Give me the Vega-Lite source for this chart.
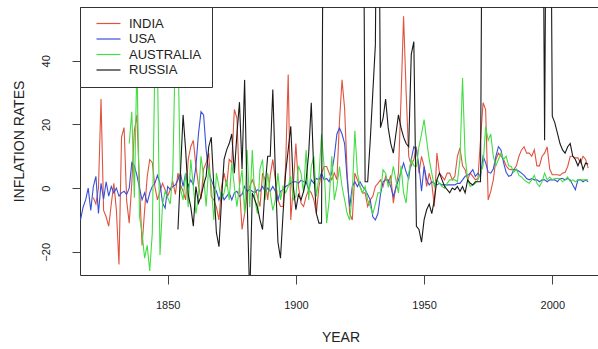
{"$schema":"https://vega.github.io/schema/vega-lite/v6.json","width":521,"height":268,"autosize":{"type":"none"},"padding":{"left":80,"top":7,"right":0,"bottom":74},"background":"white","config":{"font":"Liberation Sans","view":{"stroke":"#333","strokeWidth":1}},
"data":{"values":[
{"country":"INDIA","year":1821,"rate":-3},{"country":"INDIA","year":1822,"rate":-5},{"country":"INDIA","year":1823,"rate":0},{"country":"INDIA","year":1824,"rate":28},{"country":"INDIA","year":1825,"rate":-7},{"country":"INDIA","year":1826,"rate":-9},{"country":"INDIA","year":1827,"rate":-12},{"country":"INDIA","year":1828,"rate":-5},{"country":"INDIA","year":1829,"rate":1.5},{"country":"INDIA","year":1830,"rate":-7},{"country":"INDIA","year":1831,"rate":-24},{"country":"INDIA","year":1832,"rate":16},{"country":"INDIA","year":1833,"rate":19},{"country":"INDIA","year":1834,"rate":-4},{"country":"INDIA","year":1835,"rate":-11},{"country":"INDIA","year":1836,"rate":1.5},{"country":"INDIA","year":1837,"rate":18},{"country":"INDIA","year":1838,"rate":23},{"country":"INDIA","year":1839,"rate":1.5},{"country":"INDIA","year":1840,"rate":-18},{"country":"INDIA","year":1841,"rate":-7},{"country":"INDIA","year":1842,"rate":3.5},{"country":"INDIA","year":1843,"rate":9},{"country":"INDIA","year":1844,"rate":8},{"country":"INDIA","year":1845,"rate":0.5},{"country":"INDIA","year":1846,"rate":-3.7},{"country":"INDIA","year":1847,"rate":-1},{"country":"INDIA","year":1848,"rate":1.5},{"country":"INDIA","year":1849,"rate":-0.5},{"country":"INDIA","year":1850,"rate":-2.5},{"country":"INDIA","year":1851,"rate":-0.5},{"country":"INDIA","year":1852,"rate":2},{"country":"INDIA","year":1853,"rate":-2},{"country":"INDIA","year":1854,"rate":4.7},{"country":"INDIA","year":1855,"rate":1},{"country":"INDIA","year":1856,"rate":-1},{"country":"INDIA","year":1857,"rate":-3.7},{"country":"INDIA","year":1858,"rate":9},{"country":"INDIA","year":1859,"rate":13},{"country":"INDIA","year":1860,"rate":15},{"country":"INDIA","year":1861,"rate":7},{"country":"INDIA","year":1862,"rate":1},{"country":"INDIA","year":1863,"rate":-3.5},{"country":"INDIA","year":1864,"rate":6},{"country":"INDIA","year":1865,"rate":8},{"country":"INDIA","year":1866,"rate":11},{"country":"INDIA","year":1867,"rate":-2.6},{"country":"INDIA","year":1868,"rate":-3.7},{"country":"INDIA","year":1869,"rate":-6},{"country":"INDIA","year":1870,"rate":-10},{"country":"INDIA","year":1871,"rate":0.5},{"country":"INDIA","year":1872,"rate":4.7},{"country":"INDIA","year":1873,"rate":0.5},{"country":"INDIA","year":1874,"rate":9},{"country":"INDIA","year":1875,"rate":8},{"country":"INDIA","year":1876,"rate":24.7},{"country":"INDIA","year":1877,"rate":22},{"country":"INDIA","year":1878,"rate":0.5},{"country":"INDIA","year":1879,"rate":-13},{"country":"INDIA","year":1880,"rate":-8},{"country":"INDIA","year":1881,"rate":-1.5},{"country":"INDIA","year":1882,"rate":0.5},{"country":"INDIA","year":1883,"rate":2.6},{"country":"INDIA","year":1884,"rate":0.5},{"country":"INDIA","year":1885,"rate":-2.6},{"country":"INDIA","year":1886,"rate":-5.8},{"country":"INDIA","year":1887,"rate":4.7},{"country":"INDIA","year":1888,"rate":2.6},{"country":"INDIA","year":1889,"rate":-3.7},{"country":"INDIA","year":1890,"rate":4},{"country":"INDIA","year":1891,"rate":9},{"country":"INDIA","year":1892,"rate":2.6},{"country":"INDIA","year":1893,"rate":-3.7},{"country":"INDIA","year":1894,"rate":-5.8},{"country":"INDIA","year":1895,"rate":-5.8},{"country":"INDIA","year":1896,"rate":7},{"country":"INDIA","year":1897,"rate":35.7},{"country":"INDIA","year":1898,"rate":-10},{"country":"INDIA","year":1899,"rate":0.5},{"country":"INDIA","year":1900,"rate":14},{"country":"INDIA","year":1901,"rate":0.5},{"country":"INDIA","year":1902,"rate":-4.7},{"country":"INDIA","year":1903,"rate":-5.8},{"country":"INDIA","year":1904,"rate":-2.6},{"country":"INDIA","year":1905,"rate":-0.5},{"country":"INDIA","year":1906,"rate":-1.5},{"country":"INDIA","year":1907,"rate":-3.7},{"country":"INDIA","year":1908,"rate":-8},{"country":"INDIA","year":1909,"rate":0.5},{"country":"INDIA","year":1910,"rate":4.7},{"country":"INDIA","year":1911,"rate":6.8},{"country":"INDIA","year":1912,"rate":6.8},{"country":"INDIA","year":1913,"rate":4.7},{"country":"INDIA","year":1914,"rate":2.6},{"country":"INDIA","year":1915,"rate":4.7},{"country":"INDIA","year":1916,"rate":2.6},{"country":"INDIA","year":1917,"rate":21},{"country":"INDIA","year":1918,"rate":34},{"country":"INDIA","year":1919,"rate":25},{"country":"INDIA","year":1920,"rate":4.7},{"country":"INDIA","year":1921,"rate":-8},{"country":"INDIA","year":1922,"rate":-10},{"country":"INDIA","year":1923,"rate":4.7},{"country":"INDIA","year":1924,"rate":2.6},{"country":"INDIA","year":1925,"rate":0.5},{"country":"INDIA","year":1926,"rate":-1.5},{"country":"INDIA","year":1927,"rate":-1.5},{"country":"INDIA","year":1928,"rate":-5.8},{"country":"INDIA","year":1929,"rate":-3.7},{"country":"INDIA","year":1930,"rate":-2.6},{"country":"INDIA","year":1931,"rate":0.5},{"country":"INDIA","year":1932,"rate":1.5},{"country":"INDIA","year":1933,"rate":2.6},{"country":"INDIA","year":1934,"rate":0.5},{"country":"INDIA","year":1935,"rate":3.7},{"country":"INDIA","year":1936,"rate":1.5},{"country":"INDIA","year":1937,"rate":4},{"country":"INDIA","year":1938,"rate":-4.7},{"country":"INDIA","year":1939,"rate":0.5},{"country":"INDIA","year":1940,"rate":4.7},{"country":"INDIA","year":1941,"rate":28},{"country":"INDIA","year":1942,"rate":54},{"country":"INDIA","year":1943,"rate":30},{"country":"INDIA","year":1944,"rate":10},{"country":"INDIA","year":1945,"rate":7},{"country":"INDIA","year":1946,"rate":9},{"country":"INDIA","year":1947,"rate":13},{"country":"INDIA","year":1948,"rate":4.7},{"country":"INDIA","year":1949,"rate":10},{"country":"INDIA","year":1950,"rate":6.8},{"country":"INDIA","year":1951,"rate":0.5},{"country":"INDIA","year":1952,"rate":4.7},{"country":"INDIA","year":1953,"rate":1.5},{"country":"INDIA","year":1954,"rate":-5.8},{"country":"INDIA","year":1955,"rate":11},{"country":"INDIA","year":1956,"rate":4.7},{"country":"INDIA","year":1957,"rate":3.7},{"country":"INDIA","year":1958,"rate":2.6},{"country":"INDIA","year":1959,"rate":4.7},{"country":"INDIA","year":1960,"rate":4.7},{"country":"INDIA","year":1961,"rate":2.6},{"country":"INDIA","year":1962,"rate":3.7},{"country":"INDIA","year":1963,"rate":10},{"country":"INDIA","year":1964,"rate":12.6},{"country":"INDIA","year":1965,"rate":7},{"country":"INDIA","year":1966,"rate":5.8},{"country":"INDIA","year":1967,"rate":2.6},{"country":"INDIA","year":1968,"rate":4.7},{"country":"INDIA","year":1969,"rate":3.7},{"country":"INDIA","year":1970,"rate":2.6},{"country":"INDIA","year":1971,"rate":3},{"country":"INDIA","year":1972,"rate":15},{"country":"INDIA","year":1973,"rate":26.8},{"country":"INDIA","year":1974,"rate":24.7},{"country":"INDIA","year":1975,"rate":-3.7},{"country":"INDIA","year":1976,"rate":-1},{"country":"INDIA","year":1977,"rate":2.6},{"country":"INDIA","year":1978,"rate":9},{"country":"INDIA","year":1979,"rate":11},{"country":"INDIA","year":1980,"rate":10},{"country":"INDIA","year":1981,"rate":9},{"country":"INDIA","year":1982,"rate":7},{"country":"INDIA","year":1983,"rate":6},{"country":"INDIA","year":1984,"rate":5.8},{"country":"INDIA","year":1985,"rate":5.8},{"country":"INDIA","year":1986,"rate":7},{"country":"INDIA","year":1987,"rate":10},{"country":"INDIA","year":1988,"rate":12},{"country":"INDIA","year":1989,"rate":13},{"country":"INDIA","year":1990,"rate":11},{"country":"INDIA","year":1991,"rate":11},{"country":"INDIA","year":1992,"rate":10},{"country":"INDIA","year":1993,"rate":12},{"country":"INDIA","year":1994,"rate":7},{"country":"INDIA","year":1995,"rate":7},{"country":"INDIA","year":1996,"rate":10},{"country":"INDIA","year":1997,"rate":11},{"country":"INDIA","year":1998,"rate":13},{"country":"INDIA","year":1999,"rate":6},{"country":"INDIA","year":2000,"rate":4.2},{"country":"INDIA","year":2001,"rate":4.2},{"country":"INDIA","year":2002,"rate":4.2},{"country":"INDIA","year":2003,"rate":4},{"country":"INDIA","year":2004,"rate":4.7},{"country":"INDIA","year":2005,"rate":5},{"country":"INDIA","year":2006,"rate":6.8},{"country":"INDIA","year":2007,"rate":10},{"country":"INDIA","year":2008,"rate":10},{"country":"INDIA","year":2009,"rate":9.5},{"country":"INDIA","year":2010,"rate":9.5},{"country":"INDIA","year":2011,"rate":8},{"country":"INDIA","year":2012,"rate":10},{"country":"INDIA","year":2013,"rate":9},{"country":"INDIA","year":2014,"rate":6.3},
{"country":"USA","year":1816,"rate":-10},{"country":"USA","year":1817,"rate":-6},{"country":"USA","year":1818,"rate":-3.7},{"country":"USA","year":1819,"rate":0},{"country":"USA","year":1820,"rate":-7},{"country":"USA","year":1821,"rate":0.5},{"country":"USA","year":1822,"rate":3.7},{"country":"USA","year":1823,"rate":-8},{"country":"USA","year":1824,"rate":1.5},{"country":"USA","year":1825,"rate":-3.5},{"country":"USA","year":1826,"rate":2},{"country":"USA","year":1827,"rate":-2.5},{"country":"USA","year":1828,"rate":0.5},{"country":"USA","year":1829,"rate":-1.5},{"country":"USA","year":1830,"rate":0},{"country":"USA","year":1831,"rate":-2.5},{"country":"USA","year":1832,"rate":-1.5},{"country":"USA","year":1833,"rate":-1},{"country":"USA","year":1834,"rate":-2},{"country":"USA","year":1835,"rate":0},{"country":"USA","year":1836,"rate":8},{"country":"USA","year":1837,"rate":7},{"country":"USA","year":1838,"rate":4},{"country":"USA","year":1839,"rate":0},{"country":"USA","year":1840,"rate":-3.7},{"country":"USA","year":1841,"rate":-1.5},{"country":"USA","year":1842,"rate":-4.7},{"country":"USA","year":1843,"rate":-1.5},{"country":"USA","year":1844,"rate":0.5},{"country":"USA","year":1845,"rate":1.5},{"country":"USA","year":1846,"rate":4},{"country":"USA","year":1847,"rate":1.5},{"country":"USA","year":1848,"rate":-4.7},{"country":"USA","year":1849,"rate":-6.3},{"country":"USA","year":1850,"rate":0.5},{"country":"USA","year":1851,"rate":-0.5},{"country":"USA","year":1852,"rate":0.5},{"country":"USA","year":1853,"rate":1},{"country":"USA","year":1854,"rate":2.6},{"country":"USA","year":1855,"rate":4.7},{"country":"USA","year":1856,"rate":0.5},{"country":"USA","year":1857,"rate":4.7},{"country":"USA","year":1858,"rate":0.5},{"country":"USA","year":1859,"rate":2.6},{"country":"USA","year":1860,"rate":1},{"country":"USA","year":1861,"rate":6.8},{"country":"USA","year":1862,"rate":17},{"country":"USA","year":1863,"rate":24},{"country":"USA","year":1864,"rate":23},{"country":"USA","year":1865,"rate":12},{"country":"USA","year":1866,"rate":5},{"country":"USA","year":1867,"rate":2.6},{"country":"USA","year":1868,"rate":0.5},{"country":"USA","year":1869,"rate":-1},{"country":"USA","year":1870,"rate":-3.7},{"country":"USA","year":1871,"rate":-1.5},{"country":"USA","year":1872,"rate":-3.7},{"country":"USA","year":1873,"rate":-2.6},{"country":"USA","year":1874,"rate":-1.5},{"country":"USA","year":1875,"rate":-3.7},{"country":"USA","year":1876,"rate":-1.5},{"country":"USA","year":1877,"rate":-1},{"country":"USA","year":1878,"rate":-2.6},{"country":"USA","year":1879,"rate":-2},{"country":"USA","year":1880,"rate":0.5},{"country":"USA","year":1881,"rate":-1},{"country":"USA","year":1882,"rate":-0.5},{"country":"USA","year":1883,"rate":-1},{"country":"USA","year":1884,"rate":-1.5},{"country":"USA","year":1885,"rate":-0.5},{"country":"USA","year":1886,"rate":-1},{"country":"USA","year":1887,"rate":0.5},{"country":"USA","year":1888,"rate":-1},{"country":"USA","year":1889,"rate":0},{"country":"USA","year":1890,"rate":-1},{"country":"USA","year":1891,"rate":0.5},{"country":"USA","year":1892,"rate":-1},{"country":"USA","year":1893,"rate":-3.7},{"country":"USA","year":1894,"rate":-1},{"country":"USA","year":1895,"rate":-0.5},{"country":"USA","year":1896,"rate":0.5},{"country":"USA","year":1897,"rate":1},{"country":"USA","year":1898,"rate":1.5},{"country":"USA","year":1899,"rate":2},{"country":"USA","year":1900,"rate":2},{"country":"USA","year":1901,"rate":1.5},{"country":"USA","year":1902,"rate":2.5},{"country":"USA","year":1903,"rate":2},{"country":"USA","year":1904,"rate":2},{"country":"USA","year":1905,"rate":-0.5},{"country":"USA","year":1906,"rate":2.6},{"country":"USA","year":1907,"rate":1.5},{"country":"USA","year":1908,"rate":3},{"country":"USA","year":1909,"rate":2.6},{"country":"USA","year":1910,"rate":4.7},{"country":"USA","year":1911,"rate":2.6},{"country":"USA","year":1912,"rate":3},{"country":"USA","year":1913,"rate":2},{"country":"USA","year":1914,"rate":5},{"country":"USA","year":1915,"rate":10},{"country":"USA","year":1916,"rate":17},{"country":"USA","year":1917,"rate":18.9},{"country":"USA","year":1918,"rate":17},{"country":"USA","year":1919,"rate":14},{"country":"USA","year":1920,"rate":2.6},{"country":"USA","year":1921,"rate":-5.8},{"country":"USA","year":1922,"rate":0.5},{"country":"USA","year":1923,"rate":2},{"country":"USA","year":1924,"rate":0.5},{"country":"USA","year":1925,"rate":2},{"country":"USA","year":1926,"rate":0.5},{"country":"USA","year":1927,"rate":-0.5},{"country":"USA","year":1928,"rate":-2},{"country":"USA","year":1929,"rate":-3.7},{"country":"USA","year":1930,"rate":-9},{"country":"USA","year":1931,"rate":-10},{"country":"USA","year":1932,"rate":-8},{"country":"USA","year":1933,"rate":-2},{"country":"USA","year":1934,"rate":2},{"country":"USA","year":1935,"rate":2.6},{"country":"USA","year":1936,"rate":2.6},{"country":"USA","year":1937,"rate":0.5},{"country":"USA","year":1938,"rate":-2.6},{"country":"USA","year":1939,"rate":0},{"country":"USA","year":1940,"rate":2.6},{"country":"USA","year":1941,"rate":5},{"country":"USA","year":1942,"rate":7.9},{"country":"USA","year":1943,"rate":5},{"country":"USA","year":1944,"rate":3},{"country":"USA","year":1945,"rate":9},{"country":"USA","year":1946,"rate":13},{"country":"USA","year":1947,"rate":12},{"country":"USA","year":1948,"rate":7},{"country":"USA","year":1949,"rate":-1},{"country":"USA","year":1950,"rate":6.8},{"country":"USA","year":1951,"rate":2.6},{"country":"USA","year":1952,"rate":1},{"country":"USA","year":1953,"rate":2},{"country":"USA","year":1954,"rate":1.5},{"country":"USA","year":1955,"rate":1},{"country":"USA","year":1956,"rate":1.5},{"country":"USA","year":1957,"rate":1},{"country":"USA","year":1958,"rate":1},{"country":"USA","year":1959,"rate":1},{"country":"USA","year":1960,"rate":1},{"country":"USA","year":1961,"rate":1},{"country":"USA","year":1962,"rate":1},{"country":"USA","year":1963,"rate":1.5},{"country":"USA","year":1964,"rate":1.5},{"country":"USA","year":1965,"rate":2.6},{"country":"USA","year":1966,"rate":3.7},{"country":"USA","year":1967,"rate":4},{"country":"USA","year":1968,"rate":4.7},{"country":"USA","year":1969,"rate":5.8},{"country":"USA","year":1970,"rate":3.7},{"country":"USA","year":1971,"rate":4.7},{"country":"USA","year":1972,"rate":3.5},{"country":"USA","year":1973,"rate":10},{"country":"USA","year":1974,"rate":8},{"country":"USA","year":1975,"rate":5},{"country":"USA","year":1976,"rate":4.7},{"country":"USA","year":1977,"rate":6},{"country":"USA","year":1978,"rate":10},{"country":"USA","year":1979,"rate":13},{"country":"USA","year":1980,"rate":12},{"country":"USA","year":1981,"rate":8},{"country":"USA","year":1982,"rate":5},{"country":"USA","year":1983,"rate":3.7},{"country":"USA","year":1984,"rate":4},{"country":"USA","year":1985,"rate":5.8},{"country":"USA","year":1986,"rate":5.8},{"country":"USA","year":1987,"rate":5.3},{"country":"USA","year":1988,"rate":4.7},{"country":"USA","year":1989,"rate":4},{"country":"USA","year":1990,"rate":3},{"country":"USA","year":1991,"rate":2.6},{"country":"USA","year":1992,"rate":3},{"country":"USA","year":1993,"rate":2.6},{"country":"USA","year":1994,"rate":2.6},{"country":"USA","year":1995,"rate":2},{"country":"USA","year":1996,"rate":2.6},{"country":"USA","year":1997,"rate":2.6},{"country":"USA","year":1998,"rate":2},{"country":"USA","year":1999,"rate":2.6},{"country":"USA","year":2000,"rate":2.6},{"country":"USA","year":2001,"rate":2.6},{"country":"USA","year":2002,"rate":2},{"country":"USA","year":2003,"rate":3},{"country":"USA","year":2004,"rate":3},{"country":"USA","year":2005,"rate":2.6},{"country":"USA","year":2006,"rate":3},{"country":"USA","year":2007,"rate":2.6},{"country":"USA","year":2008,"rate":1},{"country":"USA","year":2009,"rate":-0.5},{"country":"USA","year":2010,"rate":2.6},{"country":"USA","year":2011,"rate":2.6},{"country":"USA","year":2012,"rate":2},{"country":"USA","year":2013,"rate":2.6},{"country":"USA","year":2014,"rate":2},
{"country":"AUSTRALIA","year":1835,"rate":14},{"country":"AUSTRALIA","year":1836,"rate":24},{"country":"AUSTRALIA","year":1837,"rate":-3},{"country":"AUSTRALIA","year":1838,"rate":40},{"country":"AUSTRALIA","year":1839,"rate":-9},{"country":"AUSTRALIA","year":1840,"rate":-14},{"country":"AUSTRALIA","year":1841,"rate":-22},{"country":"AUSTRALIA","year":1842,"rate":-18},{"country":"AUSTRALIA","year":1843,"rate":-26},{"country":"AUSTRALIA","year":1844,"rate":-14},{"country":"AUSTRALIA","year":1845,"rate":40},{"country":"AUSTRALIA","year":1846,"rate":40},{"country":"AUSTRALIA","year":1847,"rate":-21},{"country":"AUSTRALIA","year":1848,"rate":-5},{"country":"AUSTRALIA","year":1849,"rate":-1},{"country":"AUSTRALIA","year":1850,"rate":-3},{"country":"AUSTRALIA","year":1851,"rate":-5},{"country":"AUSTRALIA","year":1852,"rate":5},{"country":"AUSTRALIA","year":1853,"rate":45},{"country":"AUSTRALIA","year":1854,"rate":45},{"country":"AUSTRALIA","year":1855,"rate":-0.5},{"country":"AUSTRALIA","year":1856,"rate":-3.7},{"country":"AUSTRALIA","year":1857,"rate":4.7},{"country":"AUSTRALIA","year":1858,"rate":-6},{"country":"AUSTRALIA","year":1859,"rate":9},{"country":"AUSTRALIA","year":1860,"rate":0.5},{"country":"AUSTRALIA","year":1861,"rate":-8},{"country":"AUSTRALIA","year":1862,"rate":-2.6},{"country":"AUSTRALIA","year":1863,"rate":10},{"country":"AUSTRALIA","year":1864,"rate":3.7},{"country":"AUSTRALIA","year":1865,"rate":-5.8},{"country":"AUSTRALIA","year":1866,"rate":6.8},{"country":"AUSTRALIA","year":1867,"rate":0.5},{"country":"AUSTRALIA","year":1868,"rate":-10},{"country":"AUSTRALIA","year":1869,"rate":4.7},{"country":"AUSTRALIA","year":1870,"rate":0.5},{"country":"AUSTRALIA","year":1871,"rate":-3.7},{"country":"AUSTRALIA","year":1872,"rate":-1.5},{"country":"AUSTRALIA","year":1873,"rate":2.6},{"country":"AUSTRALIA","year":1874,"rate":-3.7},{"country":"AUSTRALIA","year":1875,"rate":8},{"country":"AUSTRALIA","year":1876,"rate":0.5},{"country":"AUSTRALIA","year":1877,"rate":-5.8},{"country":"AUSTRALIA","year":1878,"rate":0.5},{"country":"AUSTRALIA","year":1879,"rate":5.8},{"country":"AUSTRALIA","year":1880,"rate":-8},{"country":"AUSTRALIA","year":1881,"rate":12},{"country":"AUSTRALIA","year":1882,"rate":-6},{"country":"AUSTRALIA","year":1883,"rate":12},{"country":"AUSTRALIA","year":1884,"rate":-3.7},{"country":"AUSTRALIA","year":1885,"rate":-8},{"country":"AUSTRALIA","year":1886,"rate":6},{"country":"AUSTRALIA","year":1887,"rate":9},{"country":"AUSTRALIA","year":1888,"rate":-3.7},{"country":"AUSTRALIA","year":1889,"rate":4.7},{"country":"AUSTRALIA","year":1890,"rate":-1.5},{"country":"AUSTRALIA","year":1891,"rate":-7},{"country":"AUSTRALIA","year":1892,"rate":-3.7},{"country":"AUSTRALIA","year":1893,"rate":4.7},{"country":"AUSTRALIA","year":1894,"rate":-3.7},{"country":"AUSTRALIA","year":1895,"rate":0.5},{"country":"AUSTRALIA","year":1896,"rate":-1.5},{"country":"AUSTRALIA","year":1897,"rate":0.5},{"country":"AUSTRALIA","year":1898,"rate":3.7},{"country":"AUSTRALIA","year":1899,"rate":-3.7},{"country":"AUSTRALIA","year":1900,"rate":-2.6},{"country":"AUSTRALIA","year":1901,"rate":7},{"country":"AUSTRALIA","year":1902,"rate":4.7},{"country":"AUSTRALIA","year":1903,"rate":-1.5},{"country":"AUSTRALIA","year":1904,"rate":12},{"country":"AUSTRALIA","year":1905,"rate":-3.7},{"country":"AUSTRALIA","year":1906,"rate":6.8},{"country":"AUSTRALIA","year":1907,"rate":10},{"country":"AUSTRALIA","year":1908,"rate":-2.6},{"country":"AUSTRALIA","year":1909,"rate":3.7},{"country":"AUSTRALIA","year":1910,"rate":17},{"country":"AUSTRALIA","year":1911,"rate":6.8},{"country":"AUSTRALIA","year":1912,"rate":-11},{"country":"AUSTRALIA","year":1913,"rate":-3.7},{"country":"AUSTRALIA","year":1914,"rate":10},{"country":"AUSTRALIA","year":1915,"rate":-3.7},{"country":"AUSTRALIA","year":1916,"rate":0.5},{"country":"AUSTRALIA","year":1917,"rate":6.8},{"country":"AUSTRALIA","year":1918,"rate":0.5},{"country":"AUSTRALIA","year":1919,"rate":-3.7},{"country":"AUSTRALIA","year":1920,"rate":-8},{"country":"AUSTRALIA","year":1921,"rate":-10},{"country":"AUSTRALIA","year":1922,"rate":-1.5},{"country":"AUSTRALIA","year":1923,"rate":18},{"country":"AUSTRALIA","year":1924,"rate":4.7},{"country":"AUSTRALIA","year":1925,"rate":0.5},{"country":"AUSTRALIA","year":1926,"rate":-1.5},{"country":"AUSTRALIA","year":1927,"rate":0.5},{"country":"AUSTRALIA","year":1928,"rate":-3.7},{"country":"AUSTRALIA","year":1929,"rate":-5.8},{"country":"AUSTRALIA","year":1930,"rate":-8},{"country":"AUSTRALIA","year":1931,"rate":-5},{"country":"AUSTRALIA","year":1932,"rate":-1.5},{"country":"AUSTRALIA","year":1933,"rate":-1.5},{"country":"AUSTRALIA","year":1934,"rate":5.8},{"country":"AUSTRALIA","year":1935,"rate":4.7},{"country":"AUSTRALIA","year":1936,"rate":0.5},{"country":"AUSTRALIA","year":1937,"rate":2},{"country":"AUSTRALIA","year":1938,"rate":6.8},{"country":"AUSTRALIA","year":1939,"rate":2.6},{"country":"AUSTRALIA","year":1940,"rate":-1.5},{"country":"AUSTRALIA","year":1941,"rate":7},{"country":"AUSTRALIA","year":1942,"rate":-1.5},{"country":"AUSTRALIA","year":1943,"rate":-4.7},{"country":"AUSTRALIA","year":1944,"rate":4.7},{"country":"AUSTRALIA","year":1945,"rate":9},{"country":"AUSTRALIA","year":1946,"rate":7},{"country":"AUSTRALIA","year":1947,"rate":6.8},{"country":"AUSTRALIA","year":1948,"rate":13},{"country":"AUSTRALIA","year":1949,"rate":17},{"country":"AUSTRALIA","year":1950,"rate":21.5},{"country":"AUSTRALIA","year":1951,"rate":15},{"country":"AUSTRALIA","year":1952,"rate":9},{"country":"AUSTRALIA","year":1953,"rate":4.7},{"country":"AUSTRALIA","year":1954,"rate":0.5},{"country":"AUSTRALIA","year":1955,"rate":2.6},{"country":"AUSTRALIA","year":1956,"rate":1.5},{"country":"AUSTRALIA","year":1957,"rate":0.5},{"country":"AUSTRALIA","year":1958,"rate":0},{"country":"AUSTRALIA","year":1959,"rate":1.5},{"country":"AUSTRALIA","year":1960,"rate":2.6},{"country":"AUSTRALIA","year":1961,"rate":2.6},{"country":"AUSTRALIA","year":1962,"rate":2.6},{"country":"AUSTRALIA","year":1963,"rate":2},{"country":"AUSTRALIA","year":1964,"rate":9},{"country":"AUSTRALIA","year":1965,"rate":34.6},{"country":"AUSTRALIA","year":1966,"rate":10},{"country":"AUSTRALIA","year":1967,"rate":2.6},{"country":"AUSTRALIA","year":1968,"rate":0.5},{"country":"AUSTRALIA","year":1969,"rate":1},{"country":"AUSTRALIA","year":1970,"rate":1.5},{"country":"AUSTRALIA","year":1971,"rate":2.6},{"country":"AUSTRALIA","year":1972,"rate":4.7},{"country":"AUSTRALIA","year":1973,"rate":7},{"country":"AUSTRALIA","year":1974,"rate":19.4},{"country":"AUSTRALIA","year":1975,"rate":15},{"country":"AUSTRALIA","year":1976,"rate":17},{"country":"AUSTRALIA","year":1977,"rate":10},{"country":"AUSTRALIA","year":1978,"rate":7},{"country":"AUSTRALIA","year":1979,"rate":9},{"country":"AUSTRALIA","year":1980,"rate":11},{"country":"AUSTRALIA","year":1981,"rate":9},{"country":"AUSTRALIA","year":1982,"rate":10},{"country":"AUSTRALIA","year":1983,"rate":7},{"country":"AUSTRALIA","year":1984,"rate":6.8},{"country":"AUSTRALIA","year":1985,"rate":5},{"country":"AUSTRALIA","year":1986,"rate":6},{"country":"AUSTRALIA","year":1987,"rate":4},{"country":"AUSTRALIA","year":1988,"rate":3.5},{"country":"AUSTRALIA","year":1989,"rate":2.6},{"country":"AUSTRALIA","year":1990,"rate":2},{"country":"AUSTRALIA","year":1991,"rate":1.5},{"country":"AUSTRALIA","year":1992,"rate":2.6},{"country":"AUSTRALIA","year":1993,"rate":4},{"country":"AUSTRALIA","year":1994,"rate":1.5},{"country":"AUSTRALIA","year":1995,"rate":0.5},{"country":"AUSTRALIA","year":1996,"rate":2},{"country":"AUSTRALIA","year":1997,"rate":4.7},{"country":"AUSTRALIA","year":1998,"rate":2.6},{"country":"AUSTRALIA","year":1999,"rate":3.5},{"country":"AUSTRALIA","year":2000,"rate":2.6},{"country":"AUSTRALIA","year":2001,"rate":3},{"country":"AUSTRALIA","year":2002,"rate":3},{"country":"AUSTRALIA","year":2003,"rate":3},{"country":"AUSTRALIA","year":2004,"rate":2},{"country":"AUSTRALIA","year":2005,"rate":2.6},{"country":"AUSTRALIA","year":2006,"rate":3.5},{"country":"AUSTRALIA","year":2007,"rate":2},{"country":"AUSTRALIA","year":2008,"rate":2.6},{"country":"AUSTRALIA","year":2009,"rate":2},{"country":"AUSTRALIA","year":2010,"rate":2.6},{"country":"AUSTRALIA","year":2011,"rate":2.6},{"country":"AUSTRALIA","year":2012,"rate":2.6},{"country":"AUSTRALIA","year":2013,"rate":2.6},{"country":"AUSTRALIA","year":2014,"rate":2.6},
{"country":"RUSSIA","year":1854,"rate":-13},{"country":"RUSSIA","year":1855,"rate":5},{"country":"RUSSIA","year":1856,"rate":23},{"country":"RUSSIA","year":1857,"rate":12},{"country":"RUSSIA","year":1858,"rate":-2},{"country":"RUSSIA","year":1859,"rate":-5.8},{"country":"RUSSIA","year":1860,"rate":-12},{"country":"RUSSIA","year":1861,"rate":0.5},{"country":"RUSSIA","year":1862,"rate":-4.7},{"country":"RUSSIA","year":1863,"rate":-2.6},{"country":"RUSSIA","year":1864,"rate":1},{"country":"RUSSIA","year":1865,"rate":3.7},{"country":"RUSSIA","year":1866,"rate":13},{"country":"RUSSIA","year":1867,"rate":16},{"country":"RUSSIA","year":1868,"rate":0.5},{"country":"RUSSIA","year":1869,"rate":-14},{"country":"RUSSIA","year":1870,"rate":-18.4},{"country":"RUSSIA","year":1871,"rate":-3.7},{"country":"RUSSIA","year":1872,"rate":9},{"country":"RUSSIA","year":1873,"rate":12},{"country":"RUSSIA","year":1874,"rate":14},{"country":"RUSSIA","year":1875,"rate":17},{"country":"RUSSIA","year":1876,"rate":4.7},{"country":"RUSSIA","year":1877,"rate":17},{"country":"RUSSIA","year":1878,"rate":27},{"country":"RUSSIA","year":1879,"rate":6},{"country":"RUSSIA","year":1880,"rate":34},{"country":"RUSSIA","year":1881,"rate":-4},{"country":"RUSSIA","year":1882,"rate":-35},{"country":"RUSSIA","year":1883,"rate":-1.5},{"country":"RUSSIA","year":1884,"rate":-3.7},{"country":"RUSSIA","year":1885,"rate":-6},{"country":"RUSSIA","year":1886,"rate":-10},{"country":"RUSSIA","year":1887,"rate":-13},{"country":"RUSSIA","year":1888,"rate":0.5},{"country":"RUSSIA","year":1889,"rate":10},{"country":"RUSSIA","year":1890,"rate":10},{"country":"RUSSIA","year":1891,"rate":31},{"country":"RUSSIA","year":1892,"rate":4.7},{"country":"RUSSIA","year":1893,"rate":-17},{"country":"RUSSIA","year":1894,"rate":-22},{"country":"RUSSIA","year":1895,"rate":-8},{"country":"RUSSIA","year":1896,"rate":4.7},{"country":"RUSSIA","year":1897,"rate":12},{"country":"RUSSIA","year":1898,"rate":19.4},{"country":"RUSSIA","year":1899,"rate":0.5},{"country":"RUSSIA","year":1900,"rate":-6.8},{"country":"RUSSIA","year":1901,"rate":-2},{"country":"RUSSIA","year":1902,"rate":-3.7},{"country":"RUSSIA","year":1903,"rate":-1},{"country":"RUSSIA","year":1904,"rate":2.6},{"country":"RUSSIA","year":1905,"rate":11},{"country":"RUSSIA","year":1906,"rate":26.8},{"country":"RUSSIA","year":1907,"rate":4.7},{"country":"RUSSIA","year":1908,"rate":-8},{"country":"RUSSIA","year":1909,"rate":-11},{"country":"RUSSIA","year":1910,"rate":-11},{"country":"RUSSIA","year":1911,"rate":150},{"country":"RUSSIA","year":1912,"rate":150},{"country":"RUSSIA","year":1913,"rate":150},{"country":"RUSSIA","year":1914,"rate":150},{"country":"RUSSIA","year":1915,"rate":150},{"country":"RUSSIA","year":1916,"rate":150},{"country":"RUSSIA","year":1917,"rate":150},{"country":"RUSSIA","year":1918,"rate":150},{"country":"RUSSIA","year":1919,"rate":150},{"country":"RUSSIA","year":1920,"rate":150},{"country":"RUSSIA","year":1921,"rate":150},{"country":"RUSSIA","year":1922,"rate":150},{"country":"RUSSIA","year":1923,"rate":150},{"country":"RUSSIA","year":1924,"rate":150},{"country":"RUSSIA","year":1925,"rate":150},{"country":"RUSSIA","year":1926,"rate":150},{"country":"RUSSIA","year":1927,"rate":2},{"country":"RUSSIA","year":1928,"rate":2},{"country":"RUSSIA","year":1929,"rate":15},{"country":"RUSSIA","year":1930,"rate":30},{"country":"RUSSIA","year":1931,"rate":45},{"country":"RUSSIA","year":1932,"rate":150},{"country":"RUSSIA","year":1933,"rate":19},{"country":"RUSSIA","year":1934,"rate":22},{"country":"RUSSIA","year":1935,"rate":28},{"country":"RUSSIA","year":1936,"rate":19},{"country":"RUSSIA","year":1937,"rate":14},{"country":"RUSSIA","year":1938,"rate":11},{"country":"RUSSIA","year":1939,"rate":17},{"country":"RUSSIA","year":1940,"rate":23},{"country":"RUSSIA","year":1941,"rate":19},{"country":"RUSSIA","year":1942,"rate":16},{"country":"RUSSIA","year":1943,"rate":14},{"country":"RUSSIA","year":1944,"rate":13},{"country":"RUSSIA","year":1945,"rate":42},{"country":"RUSSIA","year":1946,"rate":46},{"country":"RUSSIA","year":1947,"rate":-12},{"country":"RUSSIA","year":1948,"rate":-13},{"country":"RUSSIA","year":1949,"rate":-17},{"country":"RUSSIA","year":1950,"rate":-10},{"country":"RUSSIA","year":1951,"rate":-6.8},{"country":"RUSSIA","year":1952,"rate":-5},{"country":"RUSSIA","year":1953,"rate":-8},{"country":"RUSSIA","year":1954,"rate":-3.7},{"country":"RUSSIA","year":1955,"rate":2.6},{"country":"RUSSIA","year":1956,"rate":4.7},{"country":"RUSSIA","year":1957,"rate":2.6},{"country":"RUSSIA","year":1958,"rate":0.5},{"country":"RUSSIA","year":1959,"rate":-0.5},{"country":"RUSSIA","year":1960,"rate":-1.5},{"country":"RUSSIA","year":1961,"rate":0},{"country":"RUSSIA","year":1962,"rate":-0.5},{"country":"RUSSIA","year":1963,"rate":0.5},{"country":"RUSSIA","year":1964,"rate":-1},{"country":"RUSSIA","year":1965,"rate":0.5},{"country":"RUSSIA","year":1966,"rate":-1.5},{"country":"RUSSIA","year":1967,"rate":2.6},{"country":"RUSSIA","year":1968,"rate":1.5},{"country":"RUSSIA","year":1969,"rate":1},{"country":"RUSSIA","year":1970,"rate":2},{"country":"RUSSIA","year":1971,"rate":2},{"country":"RUSSIA","year":1972,"rate":2},{"country":"RUSSIA","year":1973,"rate":150},{"country":"RUSSIA","year":1980,"rate":150},{"country":"RUSSIA","year":1990,"rate":150},{"country":"RUSSIA","year":1996,"rate":150},{"country":"RUSSIA","year":1997,"rate":15},{"country":"RUSSIA","year":1998,"rate":150},{"country":"RUSSIA","year":1999,"rate":150},{"country":"RUSSIA","year":2000,"rate":22.6},{"country":"RUSSIA","year":2001,"rate":20.5},{"country":"RUSSIA","year":2002,"rate":17.3},{"country":"RUSSIA","year":2003,"rate":14},{"country":"RUSSIA","year":2004,"rate":12},{"country":"RUSSIA","year":2005,"rate":11},{"country":"RUSSIA","year":2006,"rate":13},{"country":"RUSSIA","year":2007,"rate":14},{"country":"RUSSIA","year":2008,"rate":10},{"country":"RUSSIA","year":2009,"rate":9},{"country":"RUSSIA","year":2010,"rate":7},{"country":"RUSSIA","year":2011,"rate":9},{"country":"RUSSIA","year":2012,"rate":5.8},{"country":"RUSSIA","year":2013,"rate":7.9},{"country":"RUSSIA","year":2014,"rate":7.5}
]},
"mark":{"type":"line","clip":true,"strokeWidth":1.1},
"encoding":{
"x":{"field":"year","type":"quantitative","scale":{"domain":[1815.8,2019],"nice":false,"zero":false},"axis":{"values":[1850,1900,1950,2000],"format":"d","domain":false,"grid":false,"tickSize":9,"tickColor":"#444","labelFontSize":11,"labelColor":"#222","labelPadding":15,"labelFlush":false,"title":"YEAR","titleFontSize":14,"titleFontWeight":"normal","titleColor":"#222","titlePadding":20}},
"y":{"field":"rate","type":"quantitative","scale":{"domain":[-27.3,56.9],"nice":false,"zero":false},"axis":{"values":[-20,0,20,40],"domain":false,"grid":false,"tickSize":8,"tickColor":"#444","labelFontSize":11,"labelColor":"#222","labelAngle":-90,"labelAlign":"center","labelBaseline":"bottom","labelPadding":21,"labelFlush":false,"labelOverlap":false,"title":"INFLATION RATES","titleFontSize":14,"titleFontWeight":"normal","titleColor":"#222","titlePadding":14}},
"color":{"field":"country","type":"nominal","scale":{"domain":["INDIA","USA","AUSTRALIA","RUSSIA"],"range":["#e0533f","#3a4fd8","#44dd44","#1a1a1a"]},"legend":{"title":null,"orient":"none","legendX":0,"legendY":0,"fillColor":"white","strokeColor":"#333","padding":10,"symbolType":"M0,0H8","symbolSize":36,"symbolStrokeWidth":1.2,"labelFontSize":13,"labelColor":"#222","labelOffset":26,"rowPadding":1.5}}
}}
